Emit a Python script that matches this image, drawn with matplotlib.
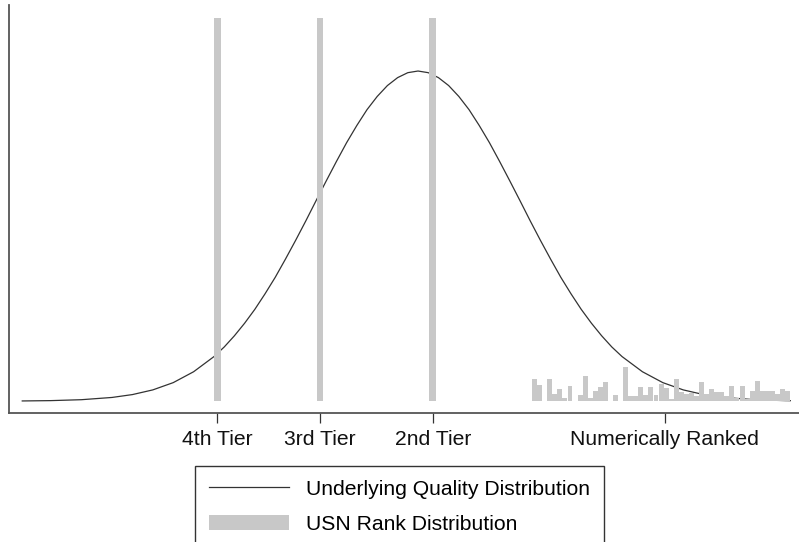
import numpy as np
import matplotlib
matplotlib.use("Agg")
import matplotlib.pyplot as plt

plt.rcParams['font.family'] = ['Liberation Sans', 'DejaVu Sans']

# --- data (x in standardized quality units, y relative density) ---
curve_x = [-3.88, -3.6, -3.3, -3.0, -2.8, -2.6, -2.4, -2.2, -2.0, -1.9, -1.8, -1.7,
           -1.6, -1.5, -1.4, -1.3, -1.2, -1.1, -1.0, -0.9, -0.8, -0.7, -0.6, -0.5,
           -0.4, -0.3, -0.2, -0.1, 0.0, 0.1, 0.2, 0.3, 0.4, 0.5, 0.6, 0.7, 0.8, 0.9,
           1.0, 1.1, 1.2, 1.3, 1.4, 1.5, 1.6, 1.7, 1.8, 1.9, 2.0, 2.2, 2.4, 2.6, 2.8,
           3.0, 3.3, 3.6, 3.65]
curve_y = [0.0005, 0.0015, 0.0043, 0.0111, 0.0198, 0.034, 0.056, 0.089, 0.135, 0.164,
           0.198, 0.236, 0.278, 0.325, 0.375, 0.430, 0.487, 0.546, 0.607, 0.667, 0.726,
           0.783, 0.835, 0.883, 0.923, 0.956, 0.980, 0.995, 1.0, 0.995, 0.980, 0.956,
           0.923, 0.883, 0.835, 0.783, 0.726, 0.667, 0.607, 0.546, 0.487, 0.430, 0.375,
           0.325, 0.278, 0.236, 0.198, 0.164, 0.135, 0.089, 0.056, 0.034, 0.0198,
           0.0111, 0.0043, 0.0015, 0.0013]

tier_labels = ["4th Tier", "3rd Tier", "2nd Tier", "Numerically Ranked"]
tier_positions = [-1.968, -0.961, 0.144, 2.42]
tier_bar_height = [1.16, 1.16, 1.16]

# numerically ranked schools: rank-distribution bar heights
ranked_heights = [0.067, 0.048, 0.0, 0.067, 0.021, 0.036, 0.009, 0.045, 0.0, 0.018,
                  0.076, 0.009, 0.030, 0.042, 0.058, 0.0, 0.018, 0.0, 0.103, 0.015,
                  0.015, 0.042, 0.018, 0.042, 0.018, 0.052, 0.039, 0.006, 0.067, 0.027,
                  0.021, 0.024, 0.015, 0.058, 0.021, 0.036, 0.027, 0.027, 0.015, 0.045,
                  0.009, 0.045, 0.006, 0.030, 0.061, 0.030, 0.030, 0.030, 0.021, 0.036,
                  0.030]
ranked_start = 1.118
ranked_step = 0.0496

# --- figure ---
fig = plt.figure(figsize=(7.99, 5.42), dpi=100)
ax = fig.add_axes([9/799, (542-413)/542, 790/799, (413-5)/542])
ax.set_xlim(-4.01, 3.735)
ax.set_ylim(-0.036, 1.2)

gray = '#c8c8c8'
line, = ax.plot(curve_x, curve_y, color='#333333', lw=0.9, zorder=2,
                label='Underlying Quality Distribution')
bars = ax.bar(tier_positions[:3], tier_bar_height, width=0.066, bottom=0,
              color=gray, zorder=3, label='USN Rank Distribution')
rx = ranked_start + ranked_step * (np.arange(len(ranked_heights)) + 0.5)
ax.bar(rx, ranked_heights, width=ranked_step * 0.98, bottom=0, color=gray, zorder=3)

for s in ['top', 'right']:
    ax.spines[s].set_visible(False)
for s in ['left', 'bottom']:
    ax.spines[s].set_color('#555555')
    ax.spines[s].set_linewidth(1.3)
ax.set_yticks([])
ax.set_xticks(tier_positions)
ax.set_xticklabels(tier_labels, fontsize=15.2, color='#111111')
ax.tick_params(axis='x', direction='out', length=7, width=0.9, color='#333333', pad=5.5)

leg = ax.legend(handles=[line, bars], loc='upper left',
                bbox_to_anchor=(195/799, 1 - 466/542), bbox_transform=fig.transFigure,
                fontsize=15.2, handlelength=3.8, handletextpad=0.8, borderpad=0.65,
                labelspacing=0.76, fancybox=False, framealpha=1, borderaxespad=0)
leg.get_frame().set_edgecolor('#333333')
leg.get_frame().set_linewidth(1.0)

fig.savefig('out.png', dpi=100)
